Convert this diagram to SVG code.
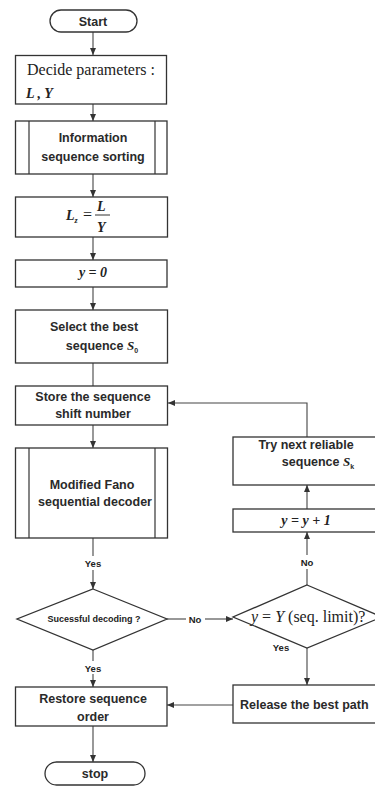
<svg xmlns="http://www.w3.org/2000/svg" width="375" height="788" viewBox="0 0 375 788">
<defs>
<marker id="ah" markerWidth="8" markerHeight="8" refX="7" refY="4" orient="auto" markerUnits="userSpaceOnUse">
<path d="M0,1 L7,4 L0,7 Z" fill="#333"/>
</marker>
<style>
.box{fill:#fff;stroke:#333;stroke-width:1.3}
.ln{fill:none;stroke:#333;stroke-width:1.2}
.cn{fill:none;stroke:#444;stroke-width:1.1}
.ss{font-family:"Liberation Sans",Arial,sans-serif;font-size:12.5px;font-weight:bold;fill:#2a2a2a}
.c{text-anchor:middle}
.sm{font-family:"Liberation Sans",Arial,sans-serif;font-size:9px;font-weight:bold;fill:#222;text-anchor:middle}
.lb{font-family:"Liberation Sans",Arial,sans-serif;font-size:9.5px;font-weight:bold;fill:#222;text-anchor:middle}
.sf{font-family:"Liberation Serif","Times New Roman",serif;font-size:16px;fill:#222}
.mi{font-family:"Liberation Serif","Times New Roman",serif;font-size:14px;font-style:italic;font-weight:bold;fill:#222}
</style>
</defs>
<rect width="375" height="788" fill="#fff"/>

<g id="connectors">
<line class="cn" x1="93" y1="32" x2="93" y2="55" marker-end="url(#ah)"/>
<line class="cn" x1="93" y1="104" x2="93" y2="121" marker-end="url(#ah)"/>
<line class="cn" x1="93" y1="174" x2="93" y2="197" marker-end="url(#ah)"/>
<line class="cn" x1="93" y1="237" x2="93" y2="260" marker-end="url(#ah)"/>
<line class="cn" x1="93" y1="287" x2="93" y2="310" marker-end="url(#ah)"/>
<line class="cn" x1="93" y1="363" x2="93" y2="386"/>
<line class="cn" x1="93" y1="425" x2="93" y2="448" marker-end="url(#ah)"/>
<line class="cn" x1="93" y1="538" x2="93" y2="556"/>
<line class="cn" x1="93" y1="570" x2="93" y2="589" marker-end="url(#ah)"/>
<line class="cn" x1="167" y1="619" x2="186" y2="619"/>
<line class="cn" x1="205" y1="619" x2="233" y2="619" marker-end="url(#ah)"/>
<line class="cn" x1="93" y1="650" x2="93" y2="661"/>
<line class="cn" x1="93" y1="674" x2="93" y2="687" marker-end="url(#ah)"/>
<line class="cn" x1="307" y1="648" x2="307" y2="685" marker-end="url(#ah)"/>
<line class="cn" x1="307" y1="585" x2="307" y2="569"/>
<line class="cn" x1="307" y1="555" x2="307" y2="532" marker-end="url(#ah)"/>
<line class="cn" x1="307" y1="509" x2="307" y2="485" marker-end="url(#ah)"/>
<polyline class="cn" points="307,437 307,403 168,403" marker-end="url(#ah)"/>
<line class="cn" x1="233" y1="705" x2="167" y2="705" marker-end="url(#ah)"/>
<line class="cn" x1="93" y1="726" x2="93" y2="762" marker-end="url(#ah)"/>
<text class="lb" x="93" y="567">Yes</text>
<text class="lb" x="93" y="672">Yes</text>
<text class="lb" x="195" y="622.5">No</text>
<text class="lb" x="307" y="566">No</text>
<text class="lb" x="281" y="651">Yes</text>
</g>

<g id="start">
<rect class="box" x="50" y="10" width="87" height="22" rx="11"/>
<text class="ss c" x="93" y="25.5">Start</text>
</g>

<g id="decide">
<rect class="box" x="15.5" y="55.5" width="151" height="48.5"/>
<text class="sf" x="27" y="75">Decide parameters :</text>
<text class="mi" x="26" y="98">L , Y</text>
</g>

<g id="sorting">
<rect class="box" x="15.5" y="121" width="151.5" height="53"/>
<line class="ln" x1="29" y1="121" x2="29" y2="174"/>
<line class="ln" x1="155" y1="121" x2="155" y2="174"/>
<text class="ss c" x="93" y="142">Information</text>
<text class="ss c" x="93" y="161">sequence sorting</text>
</g>

<g id="lz">
<rect class="box" x="15.5" y="197" width="152" height="40"/>
<text class="mi" x="66" y="220">L<tspan style="font-size:8px" dy="3">z</tspan></text>
<text class="sf" x="83" y="220">=</text>
<text class="mi" x="97" y="211">L</text>
<line x1="95" y1="215" x2="110" y2="215" stroke="#333" stroke-width="1"/>
<text class="mi" x="97" y="232">Y</text>
</g>

<g id="y0">
<rect class="box" x="15.5" y="260" width="151.5" height="27"/>
<text class="mi c" x="93" y="277">y = 0</text>
</g>

<g id="select">
<rect class="box" x="15.5" y="310" width="152" height="53"/>
<text class="ss c" x="94" y="331">Select the best</text>
<text class="ss c" x="102" y="350">sequence <tspan class="mi" style="font-size:13px">S</tspan><tspan style="font-size:7px" dy="3">0</tspan></text>
</g>

<g id="store">
<rect class="box" x="15.5" y="386" width="152" height="39"/>
<text class="ss c" x="93" y="401">Store the sequence</text>
<text class="ss c" x="93" y="418">shift number</text>
</g>

<g id="fano">
<rect class="box" x="15.5" y="448" width="152" height="90"/>
<line class="ln" x1="29" y1="448" x2="29" y2="538"/>
<line class="ln" x1="155" y1="448" x2="155" y2="538"/>
<text class="ss c" x="92" y="489">Modified Fano</text>
<text class="ss c" x="95" y="506">sequential decoder</text>
</g>

<g id="success">
<polygon class="box" points="93,589 167,619 93,650 17,619"/>
<text class="sm" x="94" y="622">Sucessful decoding ?</text>
</g>

<g id="limit">
<polygon class="box" points="307,585 382,617 307,648 233,617"/>
<text class="sf" x="251" y="622"><tspan style="font-style:italic">y</tspan> = <tspan style="font-style:italic">Y</tspan> (seq. limit)?</text>
</g>

<g id="tryNext">
<rect class="box" x="233" y="437" width="150" height="48"/>
<text class="ss c" x="306" y="449">Try next reliable</text>
<text class="ss c" x="318" y="466">sequence <tspan class="mi" style="font-size:13px">S</tspan><tspan style="font-size:7px" dy="3">k</tspan></text>
</g>

<g id="incr">
<rect class="box" x="233" y="509" width="150" height="23"/>
<text class="mi c" x="306" y="525">y = y + 1</text>
</g>

<g id="release">
<rect class="box" x="233" y="685" width="150" height="38"/>
<text class="ss" x="240" y="709">Release the best path</text>
</g>

<g id="restore">
<rect class="box" x="15.5" y="687" width="151.5" height="39"/>
<text class="ss c" x="93" y="703">Restore sequence</text>
<text class="ss c" x="93" y="721">order</text>
</g>

<g id="stop">
<rect class="box" x="45" y="762" width="100" height="23" rx="11.5"/>
<text class="ss c" x="95" y="778">stop</text>
</g>
</svg>
